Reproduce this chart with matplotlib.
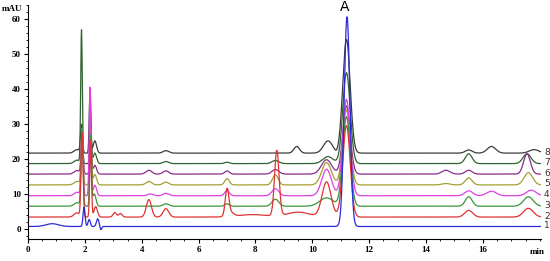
import numpy as np
import matplotlib.pyplot as plt
from matplotlib.ticker import MultipleLocator

# baselines of traces 1..8 (mAU)
baselines = [0.6, 3.3, 6.4, 9.4, 12.5, 15.6, 18.6, 21.6]
colors = ['#2b2bd9', '#dd3333', '#3a963a', '#e040e0', '#a3a032', '#8a2c8a', '#2f632f', '#3c3c3c']
labels = ['1', '2', '3', '4', '5', '6', '7', '8']

# peak tables: retention time (min), height above baseline (mAU), sigma (min)
rt1 = [0.85, 1.97, 2.15, 2.45, 2.56, 11.22]
h1 = [0.8, 5.5, 2.0, 2.2, -1.0, 60.0]
s1 = [0.22, 0.035, 0.04, 0.045, 0.03, 0.1]

rt2 = [1.72, 1.9, 2.2, 2.38, 3.05, 3.25, 4.25, 4.85, 7.0, 7.15, 7.9, 8.75, 9.5, 10.5, 11.2, 15.5, 17.6]
h2 = [1.2, 24, 22, 3, 1.3, 1.0, 5.0, 2.4, 7.8, 1.0, 0.7, 18.7, 1.4, 10.0, 26.2, 1.9, 2.5]
s2 = [0.1, 0.035, 0.03, 0.06, 0.06, 0.06, 0.09, 0.1, 0.065, 0.1, 0.5, 0.08, 0.4, 0.16, 0.13, 0.14, 0.17]

rt3 = [1.72, 1.9, 2.2, 2.33, 4.85, 7.0, 8.7, 10.5, 11.2, 15.5, 17.6]
h3 = [1.0, 22, 20, 3.5, 0.7, 0.7, 2.0, 2.4, 25.6, 2.7, 2.7]
s3 = [0.1, 0.035, 0.03, 0.06, 0.1, 0.08, 0.12, 0.24, 0.13, 0.12, 0.17]

rt4 = [1.72, 1.9, 2.18, 2.35, 4.3, 4.85, 7.0, 8.7, 10.5, 11.2, 15.5, 16.3, 17.7]
h4 = [1.0, 19, 31, 3.0, 0.5, 0.7, 1.5, 2.0, 7.6, 27.6, 1.4, 1.3, 1.6]
s4 = [0.1, 0.035, 0.03, 0.06, 0.1, 0.1, 0.08, 0.12, 0.17, 0.13, 0.14, 0.17, 0.17]

rt5 = [1.72, 1.9, 2.2, 2.35, 4.25, 4.85, 7.0, 8.7, 10.5, 11.2, 14.7, 15.5, 17.6]
h5 = [1.0, 16, 16, 3.0, 1.0, 0.8, 1.8, 2.9, 6.4, 21.5, 0.4, 2.0, 3.5]
s5 = [0.1, 0.035, 0.03, 0.06, 0.1, 0.1, 0.08, 0.1, 0.17, 0.13, 0.14, 0.12, 0.15]

rt6 = [1.72, 1.9, 2.2, 2.35, 4.25, 4.85, 7.0, 8.7, 10.5, 11.2, 14.7, 15.5, 17.55]
h6 = [1.0, 12, 13, 2.5, 1.1, 0.9, 0.9, 1.3, 4.1, 19.5, 1.1, 1.1, 5.8]
s6 = [0.1, 0.035, 0.03, 0.06, 0.1, 0.1, 0.08, 0.12, 0.18, 0.13, 0.14, 0.12, 0.12]

rt7 = [1.72, 1.88, 2.2, 2.35, 4.85, 7.0, 8.7, 10.55, 11.2, 15.5, 17.55]
h7 = [1.0, 38, 10, 3.0, 0.6, 0.4, 0.9, 2.0, 26.0, 2.8, 2.8]
s7 = [0.1, 0.028, 0.03, 0.06, 0.1, 0.08, 0.12, 0.18, 0.13, 0.12, 0.14]

rt8 = [1.72, 1.88, 2.18, 2.35, 4.85, 9.45, 10.55, 10.85, 11.2, 15.5, 16.3, 17.8]
h8 = [1.0, 8, 18.5, 3.5, 0.7, 1.9, 3.5, -0.5, 32.5, 0.9, 1.9, 1.0]
s8 = [0.1, 0.035, 0.028, 0.06, 0.1, 0.1, 0.16, 0.06, 0.13, 0.12, 0.15, 0.17]

peaks = [(rt1, h1, s1), (rt2, h2, s2), (rt3, h3, s3), (rt4, h4, s4),
         (rt5, h5, s5), (rt6, h6, s6), (rt7, h7, s7), (rt8, h8, s8)]

t = np.arange(0, 18.05, 0.005)

fig = plt.figure(figsize=(5.5, 2.61), dpi=100)
ax = fig.add_axes([0.051, 0.084, 0.933, 0.897])

# draw from top trace to bottom so the lower ones sit on top
for i in range(7, -1, -1):
    rts, hs, ss = peaks[i]
    y = np.full_like(t, baselines[i])
    for r, h, s in zip(rts, hs, ss):
        y = y + h * np.exp(-0.5 * ((t - r) / s) ** 2)
    ax.plot(t, y, color=colors[i], lw=0.9)
    ax.text(18.15, baselines[i] + 0.3, labels[i], fontsize=6.5, color='#333333',
            va='center', ha='left', clip_on=False)

ax.set_xlim(0, 18.05)
ax.set_ylim(-3, 64)
ax.spines['top'].set_visible(False)
ax.spines['right'].set_visible(False)
ax.xaxis.set_minor_locator(MultipleLocator(0.5))
ax.yaxis.set_minor_locator(MultipleLocator(2))
ax.set_xticks([0, 2, 4, 6, 8, 10, 12, 14, 16])
ax.set_yticks([0, 10, 20, 30, 40, 50, 60])
ax.tick_params(which='major', length=3, width=0.8, labelsize=6.5, pad=2)
ax.tick_params(which='minor', length=1.5, width=0.6)
for lab in ax.get_xticklabels() + ax.get_yticklabels():
    lab.set_fontfamily('Liberation Serif')
    lab.set_fontweight('bold')

fig.text(0.003, 0.965, 'mAU', fontsize=6.5, fontfamily='Liberation Serif', fontweight='bold', va='center')
fig.text(0.977, 0.034, 'min', fontsize=6.5, fontfamily='Liberation Serif', fontweight='bold', va='center', ha='center')
ax.text(11.15, 61.3, 'A', fontsize=10, ha='center', va='bottom', clip_on=False)

plt.savefig('out.png', dpi=100)
